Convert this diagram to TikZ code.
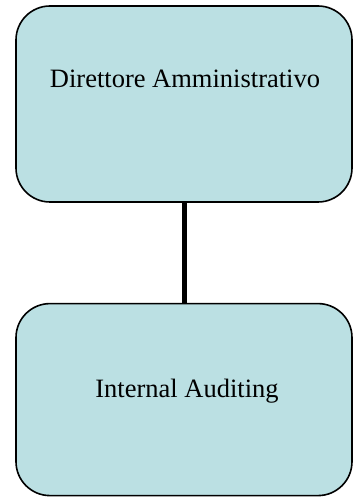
\documentclass[tikz,border=0pt]{standalone}
\usepackage{fontspec}
\setmainfont{Liberation Serif}
\usetikzlibrary{positioning}

\definecolor{boxfill}{HTML}{BBE0E3}

\begin{document}
\begin{tikzpicture}[x=1pt,y=1pt,
        orgbox/.style={draw,line width=1.6pt,rounded corners=34pt,fill=boxfill,minimum width=336pt},
        lbl/.style={font=\fontsize{26.5}{30}\selectfont,inner sep=0pt,anchor=base}]
        \useasboundingbox (0,0) rectangle (356,499);
        \node [orgbox,minimum height=196pt] (dir) at (184,395) {};
        \node [orgbox,minimum height=192pt,below=100pt of dir] (aud) {};
        \node [lbl] (dirtxt) at ([xshift=1pt,yshift=-82pt]dir.north) {Direttore Amministrativo};
        \node [lbl] (audtxt) at ([xshift=3pt,yshift=-95pt]aud.north) {Internal Auditing};
        \draw[line width=5pt] (dir.south) -- (aud.north);
    \end{tikzpicture}
\end{document}
